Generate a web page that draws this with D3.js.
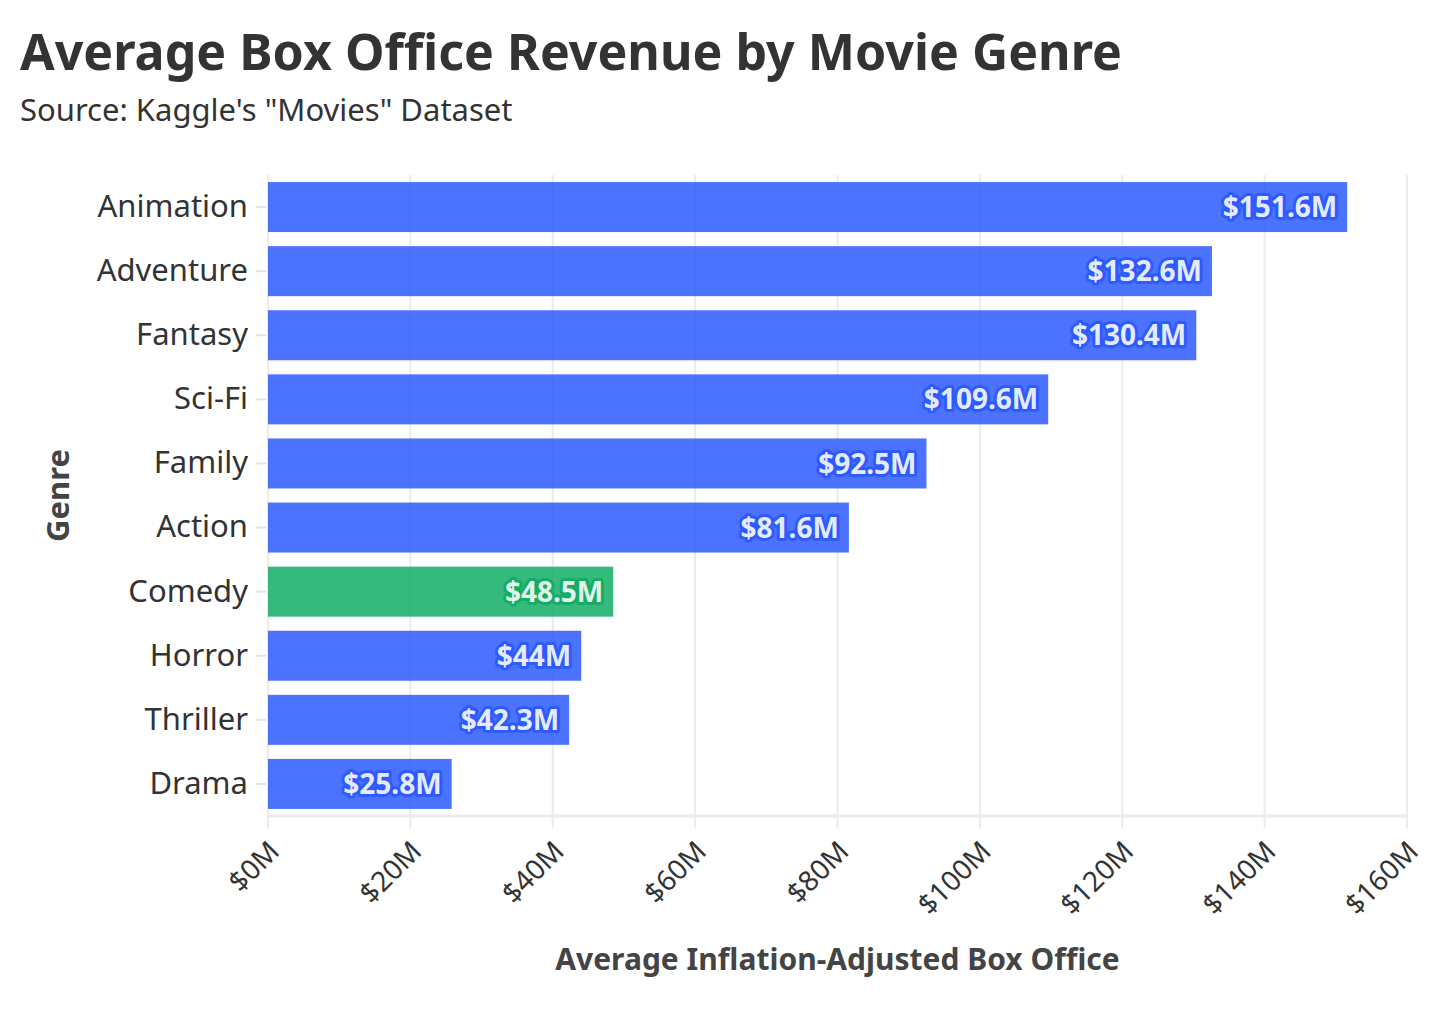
<!DOCTYPE html>
<html>
<head>
<meta charset="utf-8">
<script src="https://cdn.jsdelivr.net/npm/d3@7"></script>
<style>
  body { margin: 0; background: #fff; }
  svg { display: block; font-family: "Noto Sans", sans-serif; }
</style>
</head>
<body>
<div class="container"></div>
<script>
const width = 1456, height = 1018;

const genres = ['Animation', 'Adventure', 'Fantasy', 'Sci-Fi', 'Family', 'Action', 'Comedy', 'Horror', 'Thriller', 'Drama'];
const revenue = [151.6, 132.6, 130.4, 109.6, 92.5, 81.6, 48.5, 44, 42.3, 25.8];
const highlight = 'Comedy';
const xTicks = [0, 20, 40, 60, 80, 100, 120, 140, 160];

const margin = {left: 268, right: 49, top: 175, bottom: 202};
const blue = '#2d5bff', green = '#13ad65';

const sx = d3.scaleLinear().domain([0, 160]).range([margin.left, width - margin.right]);
const sy = d3.scaleBand().domain(genres)
	.range([margin.top, height - margin.bottom])
	.paddingInner(0.22).paddingOuter(0.11);

const fmt = v => '$' + v + 'M';

const svg = d3.select('.container').append('svg')
	.attr('width', width).attr('height', height)
	.attr('viewBox', [0, 0, width, height]);

// title
svg.append('text')
	.attr('x', 20).attr('y', 70)
	.attr('font-size', 50).attr('font-weight', 700).attr('fill', '#333')
	.attr('textLength', 1102).attr('lengthAdjust', 'spacingAndGlyphs')
	.text('Average Box Office Revenue by Movie Genre');
svg.append('text')
	.attr('x', 20).attr('y', 121)
	.attr('font-size', 31).attr('fill', '#333')
	.text('Source: Kaggle\'s "Movies" Dataset');

// grid
const bottom = height - margin.bottom;
svg.append('g')
	.selectAll('line')
	.data(xTicks)
	.join('line')
	.attr('x1', d => sx(d)).attr('x2', d => sx(d))
	.attr('y1', margin.top).attr('y2', bottom + 12)
	.attr('stroke', '#ebebeb').attr('stroke-width', 2);
svg.append('line')
	.attr('x1', sx(0)).attr('x2', sx(160))
	.attr('y1', bottom).attr('y2', bottom)
	.attr('stroke', '#ebebeb').attr('stroke-width', 3);

// bars
const data = genres.map((g, i) => ({genre: g, value: revenue[i]}));
const col = d => d.genre === highlight ? green : blue;

svg.append('g')
	.selectAll('rect')
	.data(data)
	.join('rect')
	.attr('x', sx(0))
	.attr('y', d => sy(d.genre))
	.attr('width', d => sx(d.value) - sx(0))
	.attr('height', sy.bandwidth())
	.attr('fill', col)
	.attr('fill-opacity', 0.85);

svg.append('g')
	.selectAll('text')
	.data(data)
	.join('text')
	.attr('x', d => sx(d.value) - 10)
	.attr('y', d => sy(d.genre) + sy.bandwidth() / 2)
	.attr('dy', '0.36em')
	.attr('text-anchor', 'end')
	.attr('font-size', 28).attr('font-weight', 700)
	.attr('fill', '#fff').attr('fill-opacity', 0.9)
	.attr('stroke', col).attr('stroke-width', 6)
	.attr('stroke-linejoin', 'round')
	.attr('paint-order', 'stroke')
	.text(d => fmt(d.value));

// y axis
const yAxis = svg.append('g')
	.attr('transform', 'translate(' + (sx(0) - 2) + ',0)')
	.call(d3.axisLeft(sy).tickSize(10).tickPadding(8));
yAxis.select('.domain').remove();
yAxis.selectAll('.tick line').attr('stroke', '#e3e3e3').attr('stroke-width', 2);
yAxis.selectAll('.tick text')
	.attr('font-size', 31).attr('fill', '#333')
	.attr('font-family', '"Noto Sans", sans-serif');

// x axis labels
svg.append('g')
	.selectAll('text')
	.data(xTicks)
	.join('text')
	.attr('transform', d => 'translate(' + (sx(d) + 6) + ',' + (bottom + 30) + ') rotate(-45)')
	.attr('text-anchor', 'end')
	.attr('dy', '0.35em')
	.attr('font-size', 28).attr('fill', '#333')
	.text(d => '$' + d + 'M');

// axis titles
svg.append('text')
	.attr('x', (sx(0) + sx(160)) / 2).attr('y', 970)
	.attr('text-anchor', 'middle')
	.attr('font-size', 30).attr('font-weight', 700).attr('fill', '#444')
	.text('Average Inflation-Adjusted Box Office');
svg.append('text')
	.attr('transform', 'translate(69,' + ((margin.top + bottom) / 2) + ') rotate(-90)')
	.attr('text-anchor', 'middle')
	.attr('font-size', 31).attr('font-weight', 700).attr('fill', '#444')
	.text('Genre');
</script>
</body>
</html>
